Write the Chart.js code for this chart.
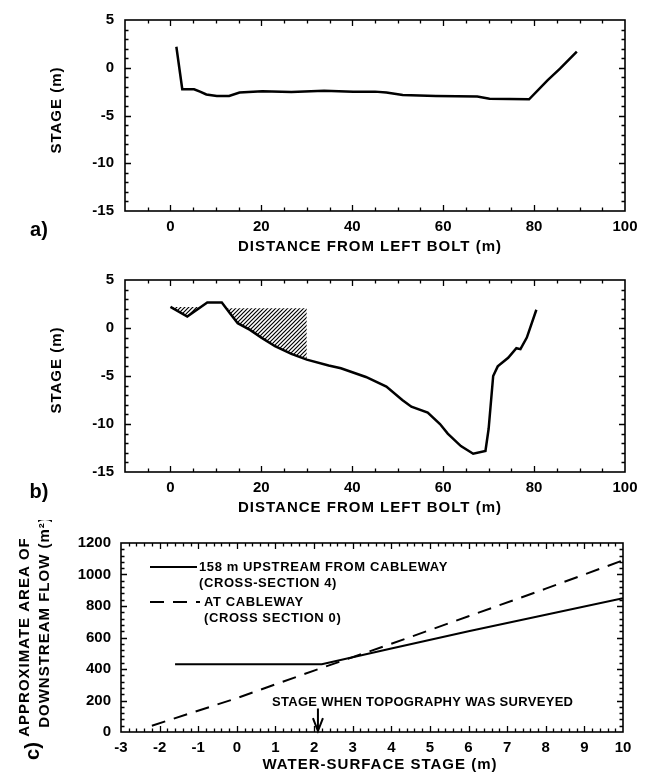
<!DOCTYPE html>
<html>
<head>
<meta charset="utf-8">
<script src="https://cdn.jsdelivr.net/npm/chart.js@4/dist/chart.umd.min.js"></script>
<style>
  html, body { margin: 0; background: #fff; }
  #page { position: relative; width: 650px; height: 778px; background: #fff; }
  canvas { position: absolute; left: 0; }
</style>
</head>
<body>
<div id="page">
  <canvas id="ca" width="650" height="260" style="top:0"></canvas>
  <canvas id="cb" width="650" height="260" style="top:260px"></canvas>
  <canvas id="cc" width="650" height="258" style="top:520px"></canvas>
</div>
<script>
// a) cross-section, distance (m) vs stage (m)
const profileA_x = [1.3, 2.6, 5.2, 6.5, 7.9, 10.2, 12.9, 15.2, 20.2, 26.6, 33.8, 40.2, 45, 47.5, 51.1, 58.4, 67.5, 70.2, 78.9, 83, 85.7, 89.4]
const profileA_y = [2.2, -2.25, -2.25, -2.5, -2.8, -2.95, -2.95, -2.6, -2.45, -2.55, -2.4, -2.5, -2.5, -2.6, -2.85, -2.95, -3.0, -3.25, -3.3, -1.3, -0.1, 1.7]

// b) cross-section 4
const profileB_x = [0, 3.7, 8.1, 11.3, 13, 14.8, 17.5, 20, 23, 26.6, 30, 34.8, 37.5, 43, 47.5, 51, 53, 56.6, 59.3, 61, 63.9, 66.6, 69.3, 70, 71, 72, 74.3, 76.1, 77, 78.4, 80.5]
const profileB_y = [2.2, 1.2, 2.65, 2.65, 1.6, 0.5, -0.2, -1.0, -1.9, -2.7, -3.3, -3.9, -4.2, -5.1, -6.1, -7.5, -8.2, -8.8, -10.0, -11.0, -12.3, -13.1, -12.8, -10.5, -5.0, -4.0, -3.1, -2.1, -2.2, -1.0, 1.9]

// hatched areas of panel b (lower edge and top level)
const hatch1_x = [0, 3.7, 7.0]
const hatch1_y = [2.2, 1.2, 2.2]
const hatch1_top = 2.2
const hatch2_x = [12.4, 13, 14.8, 17.5, 20, 23, 26.6, 30]
const hatch2_y = [2.05, 1.6, 0.5, -0.2, -1.0, -1.9, -2.7, -3.3]
const hatch2_top = 2.05

// c) area of downstream flow (m2) vs water-surface stage (m)
const upstream_x = [-1.6, 2.2, 4, 6, 8, 10]
const upstream_y = [430, 430, 530, 640, 745, 850]
const cableway_x = [-2.2, 0, 2, 4, 6, 8, 10]
const cableway_y = [40, 215, 390, 560, 735, 910, 1090]
const surveyStage = 2.1

const legendLabels = [
  ['158 m UPSTREAM FROM CABLEWAY', '(CROSS-SECTION 4)'],
  ['AT CABLEWAY', '(CROSS SECTION 0)'],
]

const FONT = '"Liberation Sans", Arial, Helvetica, sans-serif'
const pts = (xs, ys) => xs.map((x, i) => ({ x, y: ys[i] }))

function hatchPattern() {
  const c = document.createElement('canvas')
  c.width = c.height = 4
  const g = c.getContext('2d')
  g.strokeStyle = '#000'
  g.lineWidth = 1.2
  g.beginPath()
  g.moveTo(0, 4); g.lineTo(4, 0)
  g.moveTo(-1, 1); g.lineTo(1, -1)
  g.moveTo(3, 5); g.lineTo(5, 3)
  g.stroke()
  return g.createPattern(c, 'repeat')
}

function drawText(ctx, t) {
  ctx.save()
  ctx.fillStyle = '#000'
  ctx.font = `bold ${t.size || 15}px ${FONT}`
  ctx.letterSpacing = (t.sp ?? 1) + 'px'
  ctx.textAlign = t.align || 'center'
  ctx.textBaseline = 'middle'
  ctx.translate(t.x, t.y)
  if (t.rot) ctx.rotate(t.rot * Math.PI / 180)
  ctx.fillText(t.t, 0, 0)
  ctx.restore()
}

// box with inward ticks on all four sides, plus free texts
const framePlugin = {
  id: 'frame',
  afterDraw(chart, args, opts) {
    const { ctx, chartArea: a, scales: { x, y } } = chart
    ctx.save()
    ctx.strokeStyle = '#000'
    ctx.lineWidth = 1.6
    ctx.strokeRect(a.left, a.top, a.right - a.left, a.bottom - a.top)
    ctx.lineWidth = 1.3
    ctx.beginPath()
    const isMajor = (v, m) => Math.abs(v / m - Math.round(v / m)) < 1e-6
    const nx = Math.round((x.max - x.min) / opts.xMinor)
    for (let i = 1; i < nx; i++) {
      const v = x.min + i * opts.xMinor
      const len = isMajor(v, opts.xMajor) ? 6 : 3.5
      const px = Math.round(x.getPixelForValue(v)) + 0.5
      ctx.moveTo(px, a.bottom); ctx.lineTo(px, a.bottom - len)
      ctx.moveTo(px, a.top); ctx.lineTo(px, a.top + len)
    }
    const ny = Math.round((y.max - y.min) / opts.yMinor)
    for (let i = 1; i < ny; i++) {
      const v = y.min + i * opts.yMinor
      const len = isMajor(v, opts.yMajor) ? 6 : 3.5
      const py = Math.round(y.getPixelForValue(v)) + 0.5
      ctx.moveTo(a.left, py); ctx.lineTo(a.left + len, py)
      ctx.moveTo(a.right, py); ctx.lineTo(a.right - len, py)
    }
    ctx.stroke()
    ctx.restore()
    ;(opts.texts || []).forEach(t => drawText(ctx, t))
  }
}

// legend + survey arrow of panel c
const extrasPlugin = {
  id: 'extras',
  afterDraw(chart) {
    if (!chart.options.plugins.extras.on) return
    const { ctx, scales: { x, y } } = chart
    const rows = [47, 82]
    chart.data.datasets.forEach((ds, i) => {
      ctx.save()
      ctx.strokeStyle = '#000'
      ctx.lineWidth = ds.borderWidth
      ctx.setLineDash(ds.borderDash || [])
      ctx.beginPath()
      ctx.moveTo(150, rows[i]); ctx.lineTo(i ? 200 : 197, rows[i])
      ctx.stroke()
      ctx.restore()
      legendLabels[i].forEach((s, j) =>
        drawText(ctx, { t: s, x: i ? 204 : 199, y: rows[i] + j * 16, size: 13, sp: 0.6, align: 'left' }))
    })
    const ax = x.getPixelForValue(surveyStage)
    const top = y.getPixelForValue(150), tip = y.getPixelForValue(6)
    ctx.save()
    ctx.strokeStyle = '#000'
    ctx.lineWidth = 2
    ctx.beginPath()
    ctx.moveTo(ax, top); ctx.lineTo(ax, tip)
    ctx.moveTo(ax - 5, tip - 13); ctx.lineTo(ax, tip); ctx.lineTo(ax + 5, tip - 13)
    ctx.stroke()
    ctx.restore()
    drawText(ctx, { t: 'STAGE WHEN TOPOGRAPHY WAS SURVEYED', x: 272, y: 182, size: 13, sp: 0.3, align: 'left' })
  }
}

Chart.register(framePlugin, extrasPlugin)

function axes(c) {
  const tickFont = { family: FONT, size: c.tickSize, weight: 'bold' }
  return {
    x: {
      type: 'linear', min: c.xMin, max: c.xMax,
      grid: { display: false, drawTicks: false }, border: { display: false },
      afterFit: s => { s.height = c.h - c.bottom },
      ticks: { stepSize: c.xStep, includeBounds: false, padding: c.xPad, color: '#000',
               format: { useGrouping: false }, font: tickFont },
    },
    y: {
      type: 'linear', min: c.yMin, max: c.yMax,
      grid: { display: false, drawTicks: false }, border: { display: false },
      afterFit: s => { s.width = c.left },
      ticks: { stepSize: c.yStep, padding: c.yPad, color: '#000',
               format: { useGrouping: false }, font: tickFont },
    },
  }
}

function makeChart(id, c, datasets, frame, extras) {
  return new Chart(document.getElementById(id), {
    type: 'scatter',
    data: { datasets },
    options: {
      responsive: false, animation: false, events: [],
      layout: { padding: { top: c.top, right: 650 - c.right, left: 0, bottom: 0 } },
      elements: { point: { radius: 0 }, line: { tension: 0 } },
      scales: axes(c),
      plugins: { legend: { display: false }, tooltip: { enabled: false }, frame, extras: { on: !!extras } },
    },
  })
}

const line = (data, w, extra) => Object.assign(
  { data, showLine: true, borderColor: '#000', borderWidth: w, fill: false, pointRadius: 0 }, extra || {})

const profileCfg = { h: 260, left: 125, right: 625, xMin: -10, xMax: 100, xStep: 20,
                     yMin: -15, yMax: 5, yStep: 5, tickSize: 15, xPad: 7, yPad: 11 }

makeChart('ca', { ...profileCfg, top: 16, bottom: 211 },
  [line(pts(profileA_x, profileA_y), 2.5)],
  { xMinor: 5, xMajor: 20, yMinor: 1, yMajor: 5, texts: [
    { t: 'STAGE (m)', x: 57, y: 110, rot: -90 },
    { t: 'DISTANCE FROM LEFT BOLT (m)', x: 370, y: 247 },
    { t: 'a)', x: 39, y: 230, size: 20, sp: 0 },
  ] })

const pattern = hatchPattern()
makeChart('cb', { ...profileCfg, top: 18, bottom: 212 },
  [
    line(pts(profileB_x, profileB_y), 2.5),
    line(pts(hatch1_x, hatch1_y), 0, { fill: { value: hatch1_top }, backgroundColor: pattern }),
    line(pts(hatch2_x, hatch2_y), 0, { fill: { value: hatch2_top }, backgroundColor: pattern }),
  ],
  { xMinor: 5, xMajor: 20, yMinor: 1, yMajor: 5, texts: [
    { t: 'STAGE (m)', x: 57, y: 110, rot: -90 },
    { t: 'DISTANCE FROM LEFT BOLT (m)', x: 370, y: 248 },
    { t: 'b)', x: 39, y: 232, size: 20, sp: 0 },
  ] })

makeChart('cc', { h: 258, top: 23, bottom: 212, left: 121, right: 623, xMin: -3, xMax: 10, xStep: 1,
                  yMin: 0, yMax: 1200, yStep: 200, tickSize: 15, xPad: 7, yPad: 10 },
  [
    line(pts(upstream_x, upstream_y), 2),
    line(pts(cableway_x, cableway_y), 2, { borderDash: [14, 9] }),
  ],
  { xMinor: 0.2, xMajor: 1, yMinor: 40, yMajor: 200, texts: [
    { t: 'APPROXIMATE AREA OF', x: 25, y: 117, rot: -90 },
    { t: 'DOWNSTREAM FLOW (m²)', x: 45, y: 102, rot: -90 },
    { t: 'WATER-SURFACE STAGE (m)', x: 380, y: 245 },
    { t: 'c)', x: 33, y: 231, size: 20, sp: 0, rot: -90 },
  ] }, true)
</script>
</body>
</html>
